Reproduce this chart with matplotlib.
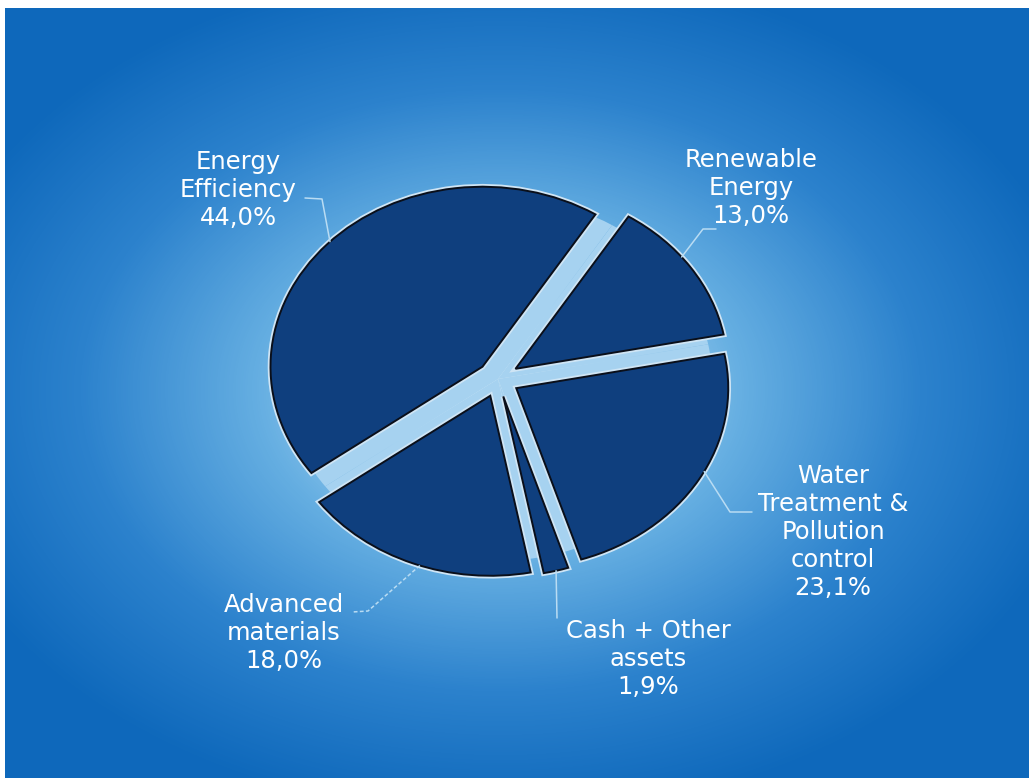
import numpy as np
import matplotlib
matplotlib.use("Agg")
import matplotlib.pyplot as plt
from matplotlib.colors import LinearSegmentedColormap

# Portfolio allocation by theme (percent)
categories = ["Renewable\nEnergy", "Energy\nEfficiency", "Advanced\nmaterials",
              "Cash + Other\nassets", "Water\nTreatment &\nPollution\ncontrol"]
shares = [13.0, 44.0, 18.0, 1.9, 23.1]

W, H = 1029, 778
fig = plt.figure(figsize=(W / 100, H / 100), dpi=100)
fig.patch.set_facecolor("white")

# ---- radial blue backdrop -------------------------------------------------
left_m, top_m = 5, 8
bg = fig.add_axes([left_m / W, 0, 1 - left_m / W, 1 - top_m / H])
bg.set_axis_off()
ny, nx = H - top_m, W - left_m
yy, xx = np.mgrid[0:ny, 0:nx]
gcx, gcy = 500 - left_m, 390 - top_m
d = np.sqrt(((xx - gcx) / 600.0) ** 2 + ((yy - gcy) / 430.0) ** 2)
bg_cmap = LinearSegmentedColormap.from_list(
    "glow", [(0.0, "#dceffa"), (0.2, "#a8d5f2"), (0.4, "#66afe2"),
             (0.7, "#2c82cd"), (1.0, "#0e68bb")])
bg.imshow(np.clip(d, 0, 1), cmap=bg_cmap, vmin=0, vmax=1, aspect="auto",
          interpolation="bilinear")
bg.set_xlim(-0.5, nx - 0.5)
bg.set_ylim(ny - 0.5, -0.5)

# ---- pie (drawn in an axes stretched into a flat ellipse) -----------------
cx, cy, rx, ry = 498.0, 379.0, 212.0, 180.0
lim = 1.45
pie_ax = fig.add_axes([(cx - lim * rx) / W, (H - (cy + lim * ry)) / H,
                       2 * lim * rx / W, 2 * lim * ry / H])
pie_ax.set_axis_off()

start = 11
explode = [0.1, 0.1, 0.1, 0.1, 0.1]
navy = "#0f3f7e"
gap_col = "#a6d2f0"

# light underlay visible through the gaps between slices
pie_ax.pie(shares, startangle=start, counterclock=True, radius=1.01,
           colors=[gap_col] * len(shares),
           wedgeprops=dict(linewidth=0, edgecolor=gap_col))
# thin light rim around every slice
pie_ax.pie(shares, startangle=start, counterclock=True, explode=explode,
           colors=[navy] * len(shares),
           wedgeprops=dict(linewidth=4.0, edgecolor="#cfe5f5"))
wedges, _ = pie_ax.pie(shares, startangle=start, counterclock=True,
                       explode=explode, colors=[navy] * len(shares),
                       wedgeprops=dict(linewidth=1.4, edgecolor="#0a0f1a"))
pie_ax.set_aspect("auto")
pie_ax.set_xlim(-lim, lim)
pie_ax.set_ylim(-lim, lim)

# ---- labels with leader lines --------------------------------------------
ov = fig.add_axes([0, 0, 1, 1])
ov.set_axis_off()
ov.set_xlim(0, W)
ov.set_ylim(H, 0)

def rim_anchor(w, offset_deg=0.0):
    ang = np.deg2rad((w.theta1 + w.theta2) / 2 + offset_deg)
    x0, y0 = w.center
    px = x0 + w.r * np.cos(ang)
    py = y0 + w.r * np.sin(ang)
    disp = pie_ax.transData.transform((px, py))
    return ov.transData.inverted().transform(disp)

# text centres and leader elbows (pixel layout)
text_pos = [(751, 188), (238, 190), (284, 633), (648, 659), (833, 532)]
elbows = [[(703, 229), (716, 229)],
          [(322, 199), (305, 198)],
          [(368, 611), (352, 612)],
          [(557, 618)],
          [(730, 512), (752, 512)]]
anchor_shift = [4, -1, 2, 0, 3]
leader_style = ["-", "-", (0, (2.5, 1.5)), "-", "-"]

for w, name, val, tp, elb, sh, ls in zip(wedges, categories, shares, text_pos,
                                         elbows, anchor_shift, leader_style):
    ax0, ay0 = rim_anchor(w, sh)
    xs = [ax0] + [p[0] for p in elb]
    ys = [ay0] + [p[1] for p in elb]
    ov.plot(xs, ys, color="#b9dcf3", lw=1.1, linestyle=ls,
            solid_capstyle="round")
    label = f"{name}\n{val:.1f}".replace(".", ",") + "%"
    ov.text(tp[0], tp[1], label, ha="center", va="center", color="white",
            fontsize=17.5, family="DejaVu Sans", linespacing=1.22,
            multialignment="center")

fig.savefig("out.png", dpi=100, facecolor="white")
